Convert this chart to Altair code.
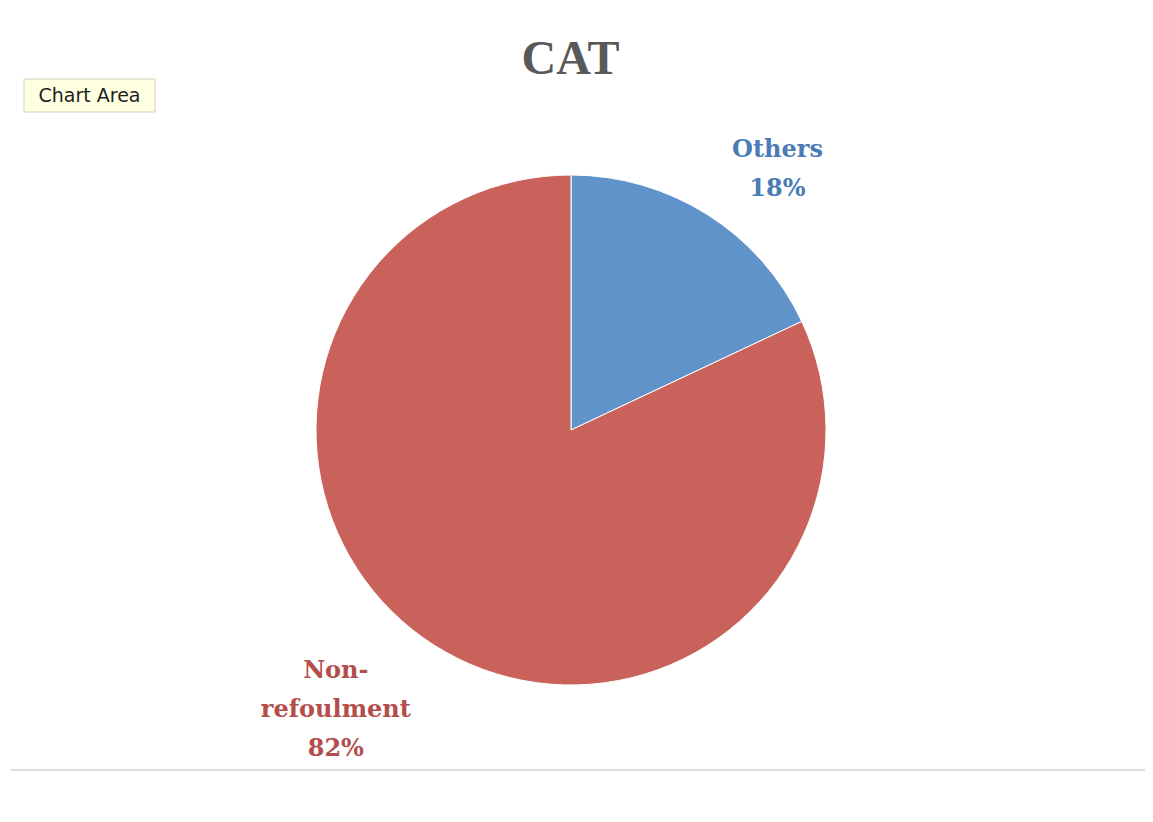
import altair as alt
import pandas as pd

# ---- data ----
categories = ["Others", "Non-refoulment"]
values = [18, 82]
labels = ["Others\n18%", "Non-\nrefoulment\n82%"]
slice_order = [0, 1]
title_text = "CAT"
tooltip_text = ["Chart Area"]

df = pd.DataFrame({"category": categories, "value": values,
                   "label": labels, "order": slice_order})
tip_df = pd.DataFrame({"t": tooltip_text})

W, H = 1137, 806
CX, CY = 563, 422
R = 255

color_scale = alt.Scale(domain=categories, range=["#5F93C9", "#C9625B"])

base = alt.Chart(df)

pie = base.mark_arc(outerRadius=R, stroke="white", strokeWidth=1).encode(
    theta=alt.Theta("value:Q", stack=True),
    order=alt.Order("order:Q"),
    color=alt.Color("category:N", scale=color_scale, legend=None),
    x=alt.value(CX), y=alt.value(CY),
)

lab_base = (base
            .transform_window(cum="sum(value)", sort=[alt.SortField("order")], frame=[None, 0])
            .transform_joinaggregate(total="sum(value)")
            .transform_calculate(mid="(datum.cum - datum.value/2)/datum.total"))


def lab(cat, r, dx, dy, color):
    return lab_base.transform_filter(alt.datum.category == cat).mark_text(
        radius=r, dx=dx, dy=dy, lineBreak="\n", font="DejaVu Serif",
        fontWeight="bold", fontSize=24, color=color, align="center",
        baseline="middle", lineHeight=39,
    ).encode(
        theta=alt.Theta("mid:Q", scale=alt.Scale(domain=[0, 1])),
        text="label:N",
        x=alt.value(CX), y=alt.value(CY),
    )


lab_others = lab("Others", 320, 35, -10, "#4A7BB7")
lab_non = lab("Non-refoulment", 340, -53, -46, "#B34E4C")

tip_box = alt.Chart(tip_df).mark_rect(fill="#FFFFE1", stroke="#D2D2BE", strokeWidth=1).encode(
    x=alt.value(16), x2=alt.value(147), y=alt.value(71), y2=alt.value(104))
tip_text = alt.Chart(tip_df).mark_text(font="DejaVu Sans", fontSize=19, color="#1E1E1E",
                                       align="center", baseline="middle").encode(
    text="t:N", x=alt.value(81.5), y=alt.value(88))

rule = alt.Chart(tip_df).mark_rule(color="#DCDCDC", strokeWidth=2).encode(
    x=alt.value(3), x2=alt.value(1137), y=alt.value(762))

chart = alt.layer(pie, lab_others, lab_non, tip_box, tip_text, rule).resolve_scale(
    theta="independent"
).properties(
    width=W, height=H,
    autosize=alt.AutoSizeParams(type="none"),
    padding=0,
    background="white",
    title=alt.TitleParams(title_text, font="Liberation Serif", fontSize=48, fontWeight="bold",
                          color="#595959", anchor="middle", baseline="alphabetic",
                          dy=118, dx=-6),
).configure_view(stroke=None)

chart.save("out.html", embed_options={"renderer": "svg", "actions": False})
